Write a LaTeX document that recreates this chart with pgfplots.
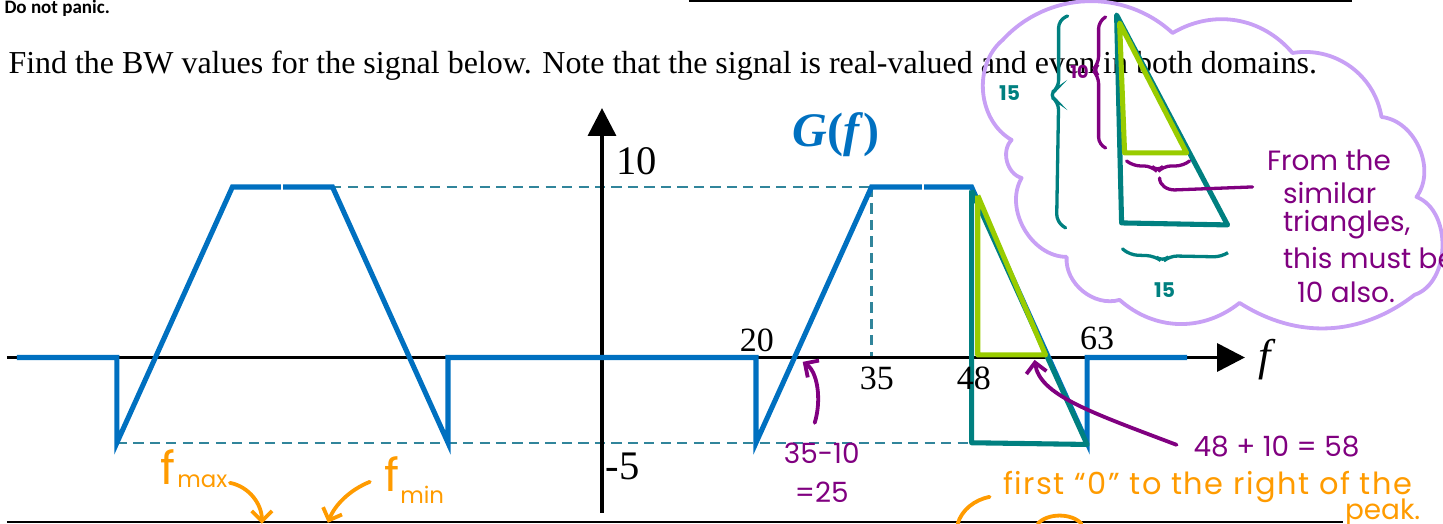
\documentclass[border=0pt]{standalone}
\usepackage{fontspec}
\setmainfont{Liberation Serif}
\newfontfamily\carlito{Carlito}
\newfontfamily\hand{Poppins}
\usepackage{pgfplots}
\usepackage{pgfplotstable}
\pgfplotsset{compat=1.18}
\usetikzlibrary{arrows.meta}

\definecolor{sigblue}{RGB}{0,112,192}
\definecolor{dashteal}{RGB}{49,133,155}
\definecolor{tealpen}{RGB}{0,128,128}
\definecolor{limepen}{RGB}{153,204,0}
\definecolor{pen}{RGB}{128,0,128}
\definecolor{orng}{RGB}{255,155,0}
\definecolor{lav}{RGB}{200,160,245}

% G(f): real and even
\pgfplotstableread{
f G
-76 0
-63 0
-63 -5
-48 10
-35 10
-20 -5
-20 0
20 0
20 -5
35 10
48 10
63 -5
63 0
76 0
}\signal

\begin{document}
\begin{tikzpicture}
\begin{axis}[
  scale only axis, width=20cm, height=7.2488cm,
  xmin=-78.18, xmax=109.22, ymin=-9.707, ymax=20.968,
  axis lines=none, clip=false,
]
\coordinate (TL) at (rel axis cs:0,1);
\coordinate (BR) at (rel axis cs:1,0);

% guide lines
\addplot[dashteal, line width=0.8pt, dash pattern=on 4pt off 2.5pt] coordinates {(-48,10)(35,10)};
\addplot[dashteal, line width=0.8pt, dash pattern=on 4pt off 2.5pt] coordinates {(-63,-5)(63,-5)};
\addplot[dashteal, line width=0.8pt, dash pattern=on 4pt off 2.5pt] coordinates {(35,10)(35,0)};

% axes
\draw[line width=1.5pt, -{Triangle[length=11pt,width=11pt]}] (axis cs:-77.3,0) -- (axis cs:83.5,0);
\draw[line width=1.5pt, -{Triangle[length=11pt,width=11pt]}] (axis cs:0,-9.12) -- (axis cs:0,14.63);

\addplot[sigblue, line width=2pt] table {\signal};
% small breaks in the plateaus
\addplot[white, line width=0.8pt] coordinates {(-41.5,10.2)(-41.5,9.8)};
\addplot[white, line width=0.8pt] coordinates {(41.7,10.2)(41.7,9.8)};

% similar triangles on the right edge
\addplot[tealpen, line width=2pt, line join=round] coordinates {(48,9.8)(48,-5)(63,-5.1)(48,9.8)};
\addplot[limepen, line width=2pt, line join=round] coordinates {(48.8,9.5)(48.8,0.15)(57.6,0.15)(48.8,9.5)};

\node[font=\fontsize{16}{16}\selectfont] at (axis cs:4.5,11.5) {10};
\node[font=\fontsize{16}{16}\selectfont, anchor=west, inner sep=0pt] at (axis cs:0.4,-6.36) {-5};
\node[font=\fontsize{13.4}{14}\selectfont] at (axis cs:20.1,1.03) {20};
\node[font=\fontsize{13.4}{14}\selectfont] at (axis cs:35.7,-1.2) {35};
\node[font=\fontsize{13.4}{14}\selectfont] at (axis cs:48.3,-1.2) {48};
\node[font=\fontsize{13.4}{14}\selectfont] at (axis cs:64.3,1.14) {63};
\node[font=\fontsize{17.5}{18}\selectfont\itshape] at (axis cs:86.1,-0.15) {f};
\node[font=\fontsize{19}{19}\selectfont\bfseries, text=sigblue] at (axis cs:30.4,13.05) {\textit{G}(\textit{f})};
\end{axis}

% annotations, in pixel units of the page
\begin{scope}[shift={(TL)}, x=0.013860cm, y=-0.013860cm]
\node[font=\carlito\bfseries\fontsize{7.5}{8}\selectfont, anchor=base west, inner sep=0pt] at (4,14) {Do not panic.};
\draw[line width=0.8pt] (689,1) -- (1352,1);
\draw[line width=0.8pt] (7,522) -- (1343,522);
\node[font=\fontsize{12.6}{14}\selectfont, anchor=base west, inner sep=0pt] at (8,74)
  {Find the BW values for the signal below. Note that the signal is real-valued and even in both domains.};

% thought cloud
\draw[lav, line width=1.5pt, line join=round]
  (1012,140) to[bend left=55] (1003,40) to[bend left=45] (1173,33)
  to[bend left=40] (1293,53) to[bend left=45] (1382,117)
  to[bend left=60] (1417,197) to[bend left=70] (1415,295)
  to[bend left=35] (1240,303) to[bend left=40] (1120,300)
  to[bend left=55] (1067,257) to[bend left=60] (1022,178)
  to[bend left=60] cycle;

\draw[tealpen, line width=2pt, line join=round] (1117,15) -- (1122,223) -- (1228,225) -- cycle;
\draw[limepen, line width=2pt, line join=round] (1120,23) -- (1125,153) -- (1187,153) -- cycle;
\draw[tealpen, line width=1.3pt, line cap=round, rounded corners=3pt]
  (1068,16) -- (1059,20) -- (1059,88) -- (1049,95) -- (1059,102) -- (1057,222) -- (1066,228);
\draw[pen, line width=1.3pt, line cap=round, rounded corners=3pt]
  (1106,17) -- (1099,21) -- (1099,64) -- (1093,70) -- (1099,76) -- (1099,145) -- (1106,148);
\draw[pen, line width=1.3pt, line cap=round, rounded corners=3pt]
  (1127,161) -- (1133,166) -- (1152,166) -- (1158,172) -- (1164,166) -- (1184,166) -- (1190,161);
\draw[pen, line width=1.3pt, line cap=round]
  (1160,178) to[out=-90,in=180] (1175,190) -- (1253,187);
\draw[tealpen, line width=1.3pt, line cap=round, rounded corners=3pt]
  (1123,249) -- (1130,255) -- (1155,256) -- (1163,262) -- (1170,256) -- (1222,257) -- (1228,253);
\node[text=tealpen, font=\hand\bfseries\fontsize{8}{9}\selectfont] at (1010,93) {15};
\node[text=pen, font=\hand\bfseries\fontsize{7}{8}\selectfont, inner sep=0pt] at (1080,72) {10};
\node[text=tealpen, font=\hand\bfseries\fontsize{8}{9}\selectfont] at (1165,290) {15};

\begin{scope}[text=pen, font=\hand\fontsize{11}{12}\selectfont]
\node[anchor=west, inner sep=0pt] at (1267,160) {From the};
\node[anchor=west, inner sep=0pt] at (1283,193) {similar};
\node[anchor=west, inner sep=0pt] at (1283,225) {triangles,};
\node[anchor=west, inner sep=0pt] at (1283,258) {this must be};
\node[anchor=west, inner sep=0pt] at (1297,292) {10 also.};
\node[anchor=center, inner sep=0pt] at (822,453) {35-10};
\node[anchor=center, inner sep=0pt] at (822,492) {=25};
\node[anchor=center, inner sep=0pt] at (1277,447) {48 + 10 = 58};
\end{scope}

\draw[pen, line width=1.5pt, line cap=round, {Straight Barb[length=4pt,width=8pt]}-]
  (803,362) .. controls (818,372) and (822,400) .. (815,423);
\draw[pen, line width=1.5pt, line cap=round, {Straight Barb[length=4pt,width=8pt]}-]
  (1035,360) .. controls (1040,395) and (1090,412) .. (1177,445);

\begin{scope}[text=orng, font=\hand\fontsize{11}{12}\selectfont]
\node[anchor=west, inner sep=0pt, font=\hand\fontsize{12}{13}\selectfont\addfontfeature{LetterSpace=5}] at (1003,487) {first “0” to the right of the};
\node[anchor=west, inner sep=0pt] at (1345,513) {peak.};
\node[font=\hand\fontsize{18}{18}\selectfont] at (168,467) {f};
\node[anchor=west, inner sep=0pt, font=\hand\fontsize{9}{10}\selectfont] at (177,481) {max};
\node[font=\hand\fontsize{18}{18}\selectfont] at (392,474) {f};
\node[anchor=west, inner sep=0pt, font=\hand\fontsize{9}{10}\selectfont] at (400,495) {min};
\end{scope}
\draw[orng, line width=1.5pt, line cap=round, -{Straight Barb[length=4pt,width=8pt]}]
  (230,483) .. controls (250,487) and (262,505) .. (262,524);
\draw[orng, line width=1.5pt, line cap=round, -{Straight Barb[length=4pt,width=8pt]}]
  (370,482) .. controls (350,490) and (335,505) .. (328,523);
\draw[orng, line width=1.5pt, line cap=round] (990,497) .. controls (975,500) and (962,510) .. (958,524);
\draw[orng, line width=1.5pt, line cap=round] (1038,524) .. controls (1048,513) and (1072,513) .. (1082,524);
\end{scope}

\pgfresetboundingbox
\path[use as bounding box] (TL) rectangle (BR);
\end{tikzpicture}
\end{document}
